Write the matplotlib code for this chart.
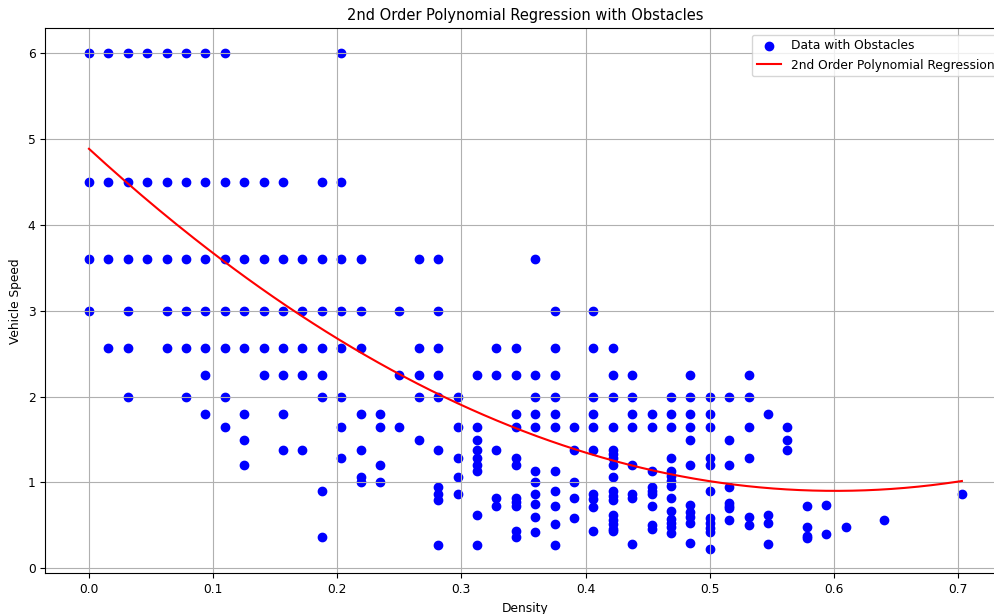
import matplotlib
matplotlib.use("Agg")
import matplotlib.pyplot as plt
import numpy as np

# Density / vehicle speed pairs (grouped by density column)
density = (
    [0.0] * 4 + [0.0156] * 4 + [0.0313] * 6 + [0.0469] * 3 + [0.0625] * 5 +
    [0.0781] * 6 + [0.0938] * 7 + [0.1094] * 7 + [0.125] * 7 + [0.1406] * 5 +
    [0.1563] * 7 + [0.1719] * 5 + [0.1875] * 8 + [0.2031] * 8 + [0.2188] * 7 +
    [0.2344] * 4 + [0.25] * 3 + [0.2656] * 5 + [0.2813] * 10 + [0.2969] * 5 +
    [0.3125] * 9 + [0.3281] * 5 + [0.3438] * 11 + [0.3594] * 11 + [0.375] * 11 +
    [0.3906] * 5 + [0.4063] * 10 + [0.4219] * 17 + [0.4375] * 8 + [0.4531] * 9 +
    [0.4688] * 14 + [0.4844] * 11 + [0.5] * 11 + [0.5156] * 8 + [0.5313] * 6 +
    [0.5469] * 4 + [0.5625] * 3 + [0.5781] * 4 + [0.5938] * 2 + [0.6094] * 1 +
    [0.6406] * 1 + [0.7031] * 1
)

speed = [
    6, 4.5, 3.6, 3.0,
    6, 4.5, 3.6, 2.57,
    6, 4.5, 3.6, 3.0, 2.57, 2.0,
    6, 4.5, 3.6,
    6, 4.5, 3.6, 3.0, 2.57,
    6, 4.5, 3.6, 3.0, 2.57, 2.0,
    6, 4.5, 3.6, 3.0, 2.57, 2.25, 1.8,
    6, 4.5, 3.6, 3.0, 2.57, 2.0, 1.64,
    4.5, 3.6, 3.0, 2.57, 1.8, 1.5, 1.2,
    4.5, 3.6, 3.0, 2.57, 2.25,
    4.5, 3.6, 3.0, 2.57, 2.25, 1.8, 1.38,
    3.6, 3.0, 2.57, 2.25, 1.38,
    4.5, 3.6, 3.0, 2.57, 2.25, 2.0, 0.9, 0.36,
    6, 4.5, 3.6, 3.0, 2.57, 2.0, 1.64, 1.29,
    3.6, 3.0, 2.57, 1.8, 1.38, 1.06, 1.0,
    1.8, 1.64, 1.2, 1.0,
    3.0, 2.25, 1.64,
    3.6, 2.57, 2.25, 2.0, 1.5,
    3.6, 3.0, 2.57, 2.25, 2.0, 1.38, 0.95, 0.86, 0.79, 0.27,
    2.0, 1.64, 1.29, 1.06, 0.86,
    2.25, 1.64, 1.5, 1.38, 1.29, 1.2, 1.13, 0.62, 0.27,
    2.57, 2.25, 1.38, 0.82, 0.72,
    2.57, 2.25, 1.8, 1.64, 1.29, 1.2, 0.82, 0.77, 0.72, 0.44, 0.36,
    3.6, 2.25, 2.0, 1.8, 1.64, 1.13, 1.0, 0.86, 0.75, 0.6, 0.42,
    3.0, 2.57, 2.25, 2.0, 1.8, 1.64, 1.13, 0.9, 0.72, 0.52, 0.27,
    1.64, 1.38, 1.0, 0.82, 0.58,
    3.0, 2.57, 2.0, 1.8, 1.64, 1.38, 0.86, 0.81, 0.71, 0.43,
    2.57, 2.25, 2.0, 1.64, 1.38, 1.33, 1.29, 1.2, 1.06, 0.9, 0.84, 0.8, 0.62, 0.56, 0.52, 0.46, 0.43,
    2.25, 2.0, 1.8, 1.64, 1.2, 0.86, 0.82, 0.28,
    1.8, 1.64, 1.13, 0.95, 0.9, 0.86, 0.72, 0.5, 0.46,
    2.0, 1.8, 1.64, 1.29, 1.13, 1.07, 1.02, 0.96, 0.82, 0.67, 0.57, 0.53, 0.48, 0.41,
    2.25, 2.0, 1.8, 1.64, 1.5, 1.2, 0.74, 0.65, 0.6, 0.53, 0.3,
    2.0, 1.8, 1.64, 1.29, 1.2, 0.9, 0.58, 0.53, 0.47, 0.42, 0.23,
    2.0, 1.5, 1.2, 0.95, 0.76, 0.73, 0.7, 0.56,
    2.25, 2.0, 1.64, 1.29, 0.6, 0.5,
    1.8, 0.62, 0.53, 0.28,
    1.64, 1.5, 1.38,
    0.72, 0.48, 0.38, 0.35,
    0.74, 0.40,
    0.48,
    0.56,
    0.86,
]

# 2nd order regression coefficients (highest power first)
fit_coeffs = [11.03, -13.26, 4.887]

title = "2nd Order Polynomial Regression with Obstacles"
x_label = "Density"
y_label = "Vehicle Speed"
scatter_label = "Data with Obstacles"
line_label = "2nd Order Polynomial Regression"

plt.rcParams["font.size"] = 8.8

fig = plt.figure(figsize=(9.94, 6.14), dpi=100)
ax = fig.add_axes([0.0456, 0.0663, 0.966, 0.8873])

ax.scatter(density, speed, color="blue", label=scatter_label)
xs = np.linspace(min(density), max(density), 200)
ax.plot(xs, np.polyval(fit_coeffs, xs), color="red", label=line_label)

ax.set_title(title)
ax.set_xlabel(x_label)
ax.set_ylabel(y_label)
ax.legend(loc="upper right")
ax.grid(True)

fig.savefig("out.png", dpi=100)
